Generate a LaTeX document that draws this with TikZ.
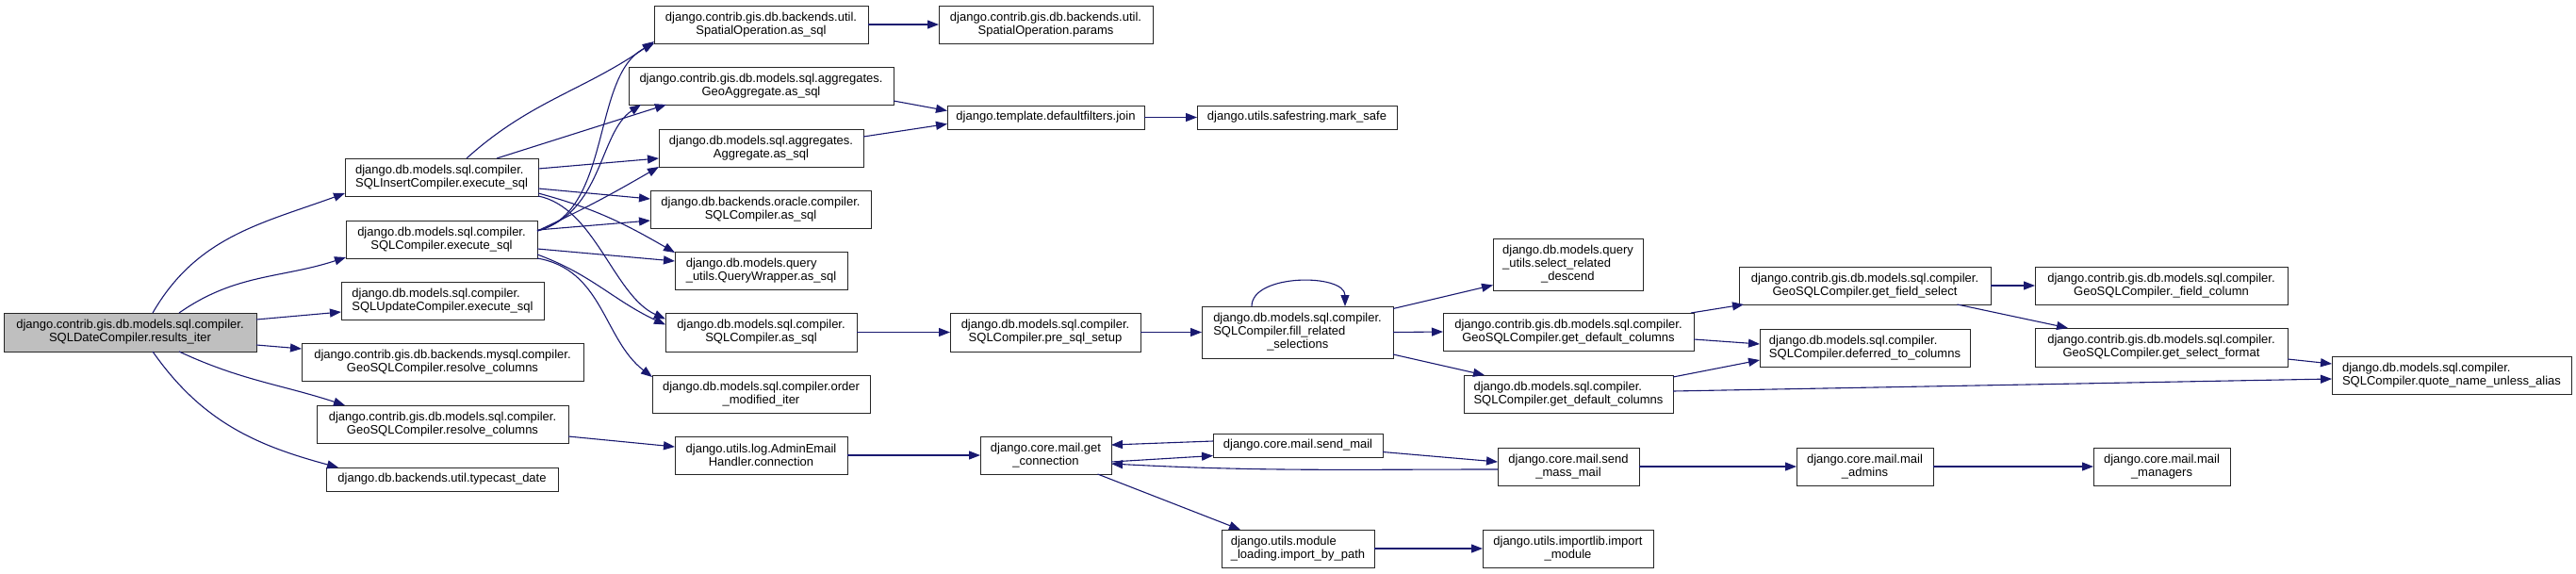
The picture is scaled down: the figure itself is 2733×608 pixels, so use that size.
\documentclass[tikz,border=0pt]{standalone}
\usepackage{fontspec}
\setmainfont{Liberation Sans}
\usetikzlibrary{arrows.meta}
\definecolor{edgeblue}{HTML}{191970}
\definecolor{rootgray}{HTML}{BFBFBF}
\begin{document}
\begin{tikzpicture}[x=1pt,y=-1pt,
    fn/.style={draw=black!85, line width=1pt, fill=white, rectangle, inner sep=0pt, outer sep=0pt,
      minimum height=40pt, align=center, font={\fontsize{13pt}{14pt}\selectfont}},
    root/.style={fn, fill=rootgray},
    call/.style={draw=edgeblue, line width=1.1pt, -{Triangle[length=12pt,width=9pt]}}]
  \useasboundingbox (0,0) rectangle (2733,608);
  % caller
  \node[root, minimum width=268pt, minimum height=41pt] (main) at (138,352.5) {django.contrib.gis.db.models.sql.compiler.\\SQLDateCompiler.results\_iter};
  % first level
  \node[fn, minimum width=205pt, align=left] (insert) at (468.5,188) {django.db.models.sql.compiler.\\SQLInsertCompiler.execute\_sql};
  \node[fn, minimum width=203pt] (sqlexec) at (468.5,254) {django.db.models.sql.compiler.\\SQLCompiler.execute\_sql};
  \node[fn, minimum width=215pt, align=left] (update) at (469.5,319) {django.db.models.sql.compiler.\\SQLUpdateCompiler.execute\_sql};
  \node[fn, minimum width=299pt] (mysqlres) at (469.5,384) {django.contrib.gis.db.backends.mysql.compiler.\\GeoSQLCompiler.resolve\_columns};
  \node[fn, minimum width=267pt] (gisres) at (469.5,450) {django.contrib.gis.db.models.sql.compiler.\\GeoSQLCompiler.resolve\_columns};
  \node[fn, minimum width=246pt, minimum height=25pt] (typecast) at (469,508.5) {django.db.backends.util.typecast\_date};
  % second level
  \node[fn, minimum width=227pt] (spatial) at (807.5,26) {django.contrib.gis.db.backends.util.\\SpatialOperation.as\_sql};
  \node[fn, minimum width=281pt] (geoagg) at (807.5,91) {django.contrib.gis.db.models.sql.aggregates.\\GeoAggregate.as\_sql};
  \node[fn, minimum width=217pt] (agg) at (807.5,157) {django.db.models.sql.aggregates.\\Aggregate.as\_sql};
  \node[fn, minimum width=234pt] (oracle) at (807,222) {django.db.backends.oracle.compiler.\\SQLCompiler.as\_sql};
  \node[fn, minimum width=183pt, align=left] (qwrap) at (807.5,287) {django.db.models.query\\\_utils.QueryWrapper.as\_sql};
  \node[fn, minimum width=203pt, minimum height=41pt] (sqlasql) at (807.5,352.5) {django.db.models.sql.compiler.\\SQLCompiler.as\_sql};
  \node[fn, minimum width=231pt] (order) at (807.5,418) {django.db.models.sql.compiler.order\\\_modified\_iter};
  \node[fn, minimum width=183pt] (admin) at (807.5,483) {django.utils.log.AdminEmail\\Handler.connection};
  % third level
  \node[fn, minimum width=227pt] (params) at (1109.5,26) {django.contrib.gis.db.backends.util.\\SpatialOperation.params};
  \node[fn, minimum width=209pt, minimum height=25pt] (join) at (1109.5,124.5) {django.template.defaultfilters.join};
  \node[fn, minimum width=202pt, minimum height=41pt] (pre) at (1109,352.5) {django.db.models.sql.compiler.\\SQLCompiler.pre\_sql\_setup};
  \node[fn, minimum width=139pt] (getconn) at (1109.5,483) {django.core.mail.get\\\_connection};
  % fourth level
  \node[fn, minimum width=212pt, minimum height=25pt] (marksafe) at (1376,124.5) {django.utils.safestring.mark\_safe};
  \node[fn, minimum width=203pt, minimum height=55pt, align=left] (fill) at (1376.5,352.5) {django.db.models.sql.compiler.\\SQLCompiler.fill\_related\\\hspace*{57pt}\_selections};
  \node[fn, minimum width=180pt, minimum height=25pt] (sendmail) at (1377,472.5) {django.core.mail.send\_mail};
  \node[fn, minimum width=162pt, align=left] (importpath) at (1377,582) {django.utils.module\\\_loading.import\_by\_path};
  % fifth level
  \node[fn, minimum width=159pt, minimum height=55pt, align=left] (select) at (1663.5,280.5) {django.db.models.query\\\_utils.select\_related\\\hspace*{41pt}\_descend};
  \node[fn, minimum width=266pt] (gisdef) at (1664,352) {django.contrib.gis.db.models.sql.compiler.\\GeoSQLCompiler.get\_default\_columns};
  \node[fn, minimum width=222pt, align=left] (dbdef) at (1664,418) {django.db.models.sql.compiler.\\SQLCompiler.get\_default\_columns};
  \node[fn, minimum width=150pt] (sendmass) at (1664,495) {django.core.mail.send\\\_mass\_mail};
  \node[fn, minimum width=181pt] (importmod) at (1663.5,582) {django.utils.importlib.import\\\_module};
  % sixth level
  \node[fn, minimum width=267pt] (fieldsel) at (1978.5,303) {django.contrib.gis.db.models.sql.compiler.\\GeoSQLCompiler.get\_field\_select};
  \node[fn, minimum width=223pt, align=left] (deferred) at (1978.5,369) {django.db.models.sql.compiler.\\SQLCompiler.deferred\_to\_columns};
  \node[fn, minimum width=145pt] (mailadmins) at (1978.5,495) {django.core.mail.mail\\\_admins};
  % seventh level
  \node[fn, minimum width=268pt] (fieldcol) at (2293,303) {django.contrib.gis.db.models.sql.compiler.\\GeoSQLCompiler.\_field\_column};
  \node[fn, minimum width=268pt, minimum height=41pt] (selfmt) at (2293,368.5) {django.contrib.gis.db.models.sql.compiler.\\GeoSQLCompiler.get\_select\_format};
  \node[fn, minimum width=145pt] (mailmgr) at (2293.5,495) {django.core.mail.mail\\\_managers};
  \node[fn, minimum width=254pt, align=left] (quote) at (2601,398) {django.db.models.sql.compiler.\\SQLCompiler.quote\_name\_unless\_alias};

  % calls from results_iter
  \draw[call] ([xshift=24pt]main.north) to[out=60,in=200] ([yshift=-17pt]insert.west);
  \draw[call] ([xshift=52pt]main.north) to[out=35,in=198] ([yshift=-19pt]sqlexec.west);
  \draw[call] ([yshift=13.5pt]main.east) -- ([yshift=-12pt]update.west);
  \draw[call] ([yshift=-13.5pt]main.east) -- ([yshift=14pt]mysqlres.west);
  \draw[call] ([xshift=52pt]main.south) to[out=-25,in=162] ([xshift=-103.5pt]gisres.north);
  \draw[call] ([xshift=24pt]main.south) to[out=-55,in=165] ([xshift=-110pt]typecast.north);
  % insert
  \draw[call] ([xshift=26.5pt]insert.north) to[out=42,in=215] ([yshift=-18pt]spatial.west);
  \draw[call] ([xshift=58.5pt]insert.north) -- ([xshift=-100.5pt]geoagg.south);
  \draw[call] ([yshift=9pt]insert.east) -- ([yshift=-11pt]agg.west);
  \draw[call] ([yshift=-12pt]insert.east) -- ([yshift=11pt]oracle.west);
  \draw[call] ([yshift=-17pt]insert.east) to[out=-15,in=150] ([yshift=19pt]qwrap.west);
  \draw[call] (insert.south east) .. controls +(60,12) and +(-55,-25) .. ([yshift=14pt]sqlasql.west);
  % execute_sql
  \draw[call] ([yshift=9pt]sqlexec.east) .. controls +(80,-20) and +(-67,34) .. (spatial.south west);
  \draw[call] ([yshift=9pt]sqlexec.east) .. controls +(70,-20) and +(-45,30) .. ([xshift=13pt]geoagg.south west);
  \draw[call] ([yshift=9pt]sqlexec.east) to[out=25,in=210] (agg.south west);
  \draw[call] ([yshift=10pt]sqlexec.east) -- ([yshift=-12pt]oracle.west);
  \draw[call] ([yshift=-10pt]sqlexec.east) -- ([yshift=10pt]qwrap.west);
  \draw[call] ([yshift=-16pt]sqlexec.east) to[out=-20,in=155] ([yshift=8pt]sqlasql.west);
  \draw[call] (sqlexec.south east) .. controls +(70,12) and +(-52,-40) .. ([yshift=-2pt]order.north west);
  % straight chains
  \foreach \a/\b in {spatial/params,join/marksafe,sqlasql/pre,pre/fill,fill/gisdef,admin/getconn,
      fieldsel/fieldcol,importpath/importmod,sendmass/mailadmins,mailadmins/mailmgr}
    \draw[call] (\a.east) -- (\b.west);
  \draw[call] ([yshift=-16pt]geoagg.east) -- ([yshift=7pt]join.west);
  \draw[call] ([yshift=12pt]agg.east) -- ([yshift=-7pt]join.west);
  % fill_related_selections
  \draw[call] ([xshift=-48.5pt]fill.north) .. controls +(0,-35) and +(0,-35) .. ([xshift=50.5pt]fill.north);
  \draw[call] ([yshift=25pt]fill.east) -- ([yshift=-22pt]select.west);
  \draw[call] ([yshift=-23.5pt]fill.east) -- ([xshift=-89pt]dbdef.north);
  \draw[call] ([xshift=130pt]gisdef.north) -- ([xshift=-128.5pt]fieldsel.south);
  \draw[call] ([yshift=-8pt]gisdef.east) -- ([yshift=4pt]deferred.west);
  \draw[call] ([yshift=18pt]dbdef.east) -- ([yshift=-13pt]deferred.west);
  \draw[call] ([yshift=3pt]dbdef.east) -- ([yshift=-4pt]quote.west);
  \draw[call] ([xshift=98pt]fieldsel.south) -- ([xshift=-99pt]selfmt.north);
  \draw[call] ([yshift=-12.5pt]selfmt.east) -- ([yshift=12pt]quote.west);
  % mail
  \draw[call] ([yshift=-13pt]gisres.east) -- ([yshift=9pt]admin.west);
  \draw[call] ([yshift=4.5pt]sendmail.west) -- ([yshift=11pt]getconn.east);
  \draw[call] ([yshift=-7pt]getconn.east) -- ([yshift=-11pt]sendmail.west);
  \draw[call] ([yshift=-3pt]sendmass.west) to[out=180,in=-3] ([yshift=-9pt]getconn.east);
  \draw[call] ([yshift=-7pt]sendmail.east) -- ([yshift=5pt]sendmass.west);
  \draw[call] ([xshift=55pt]getconn.south) -- ([xshift=-61pt]importpath.north);
\end{tikzpicture}
\end{document}
